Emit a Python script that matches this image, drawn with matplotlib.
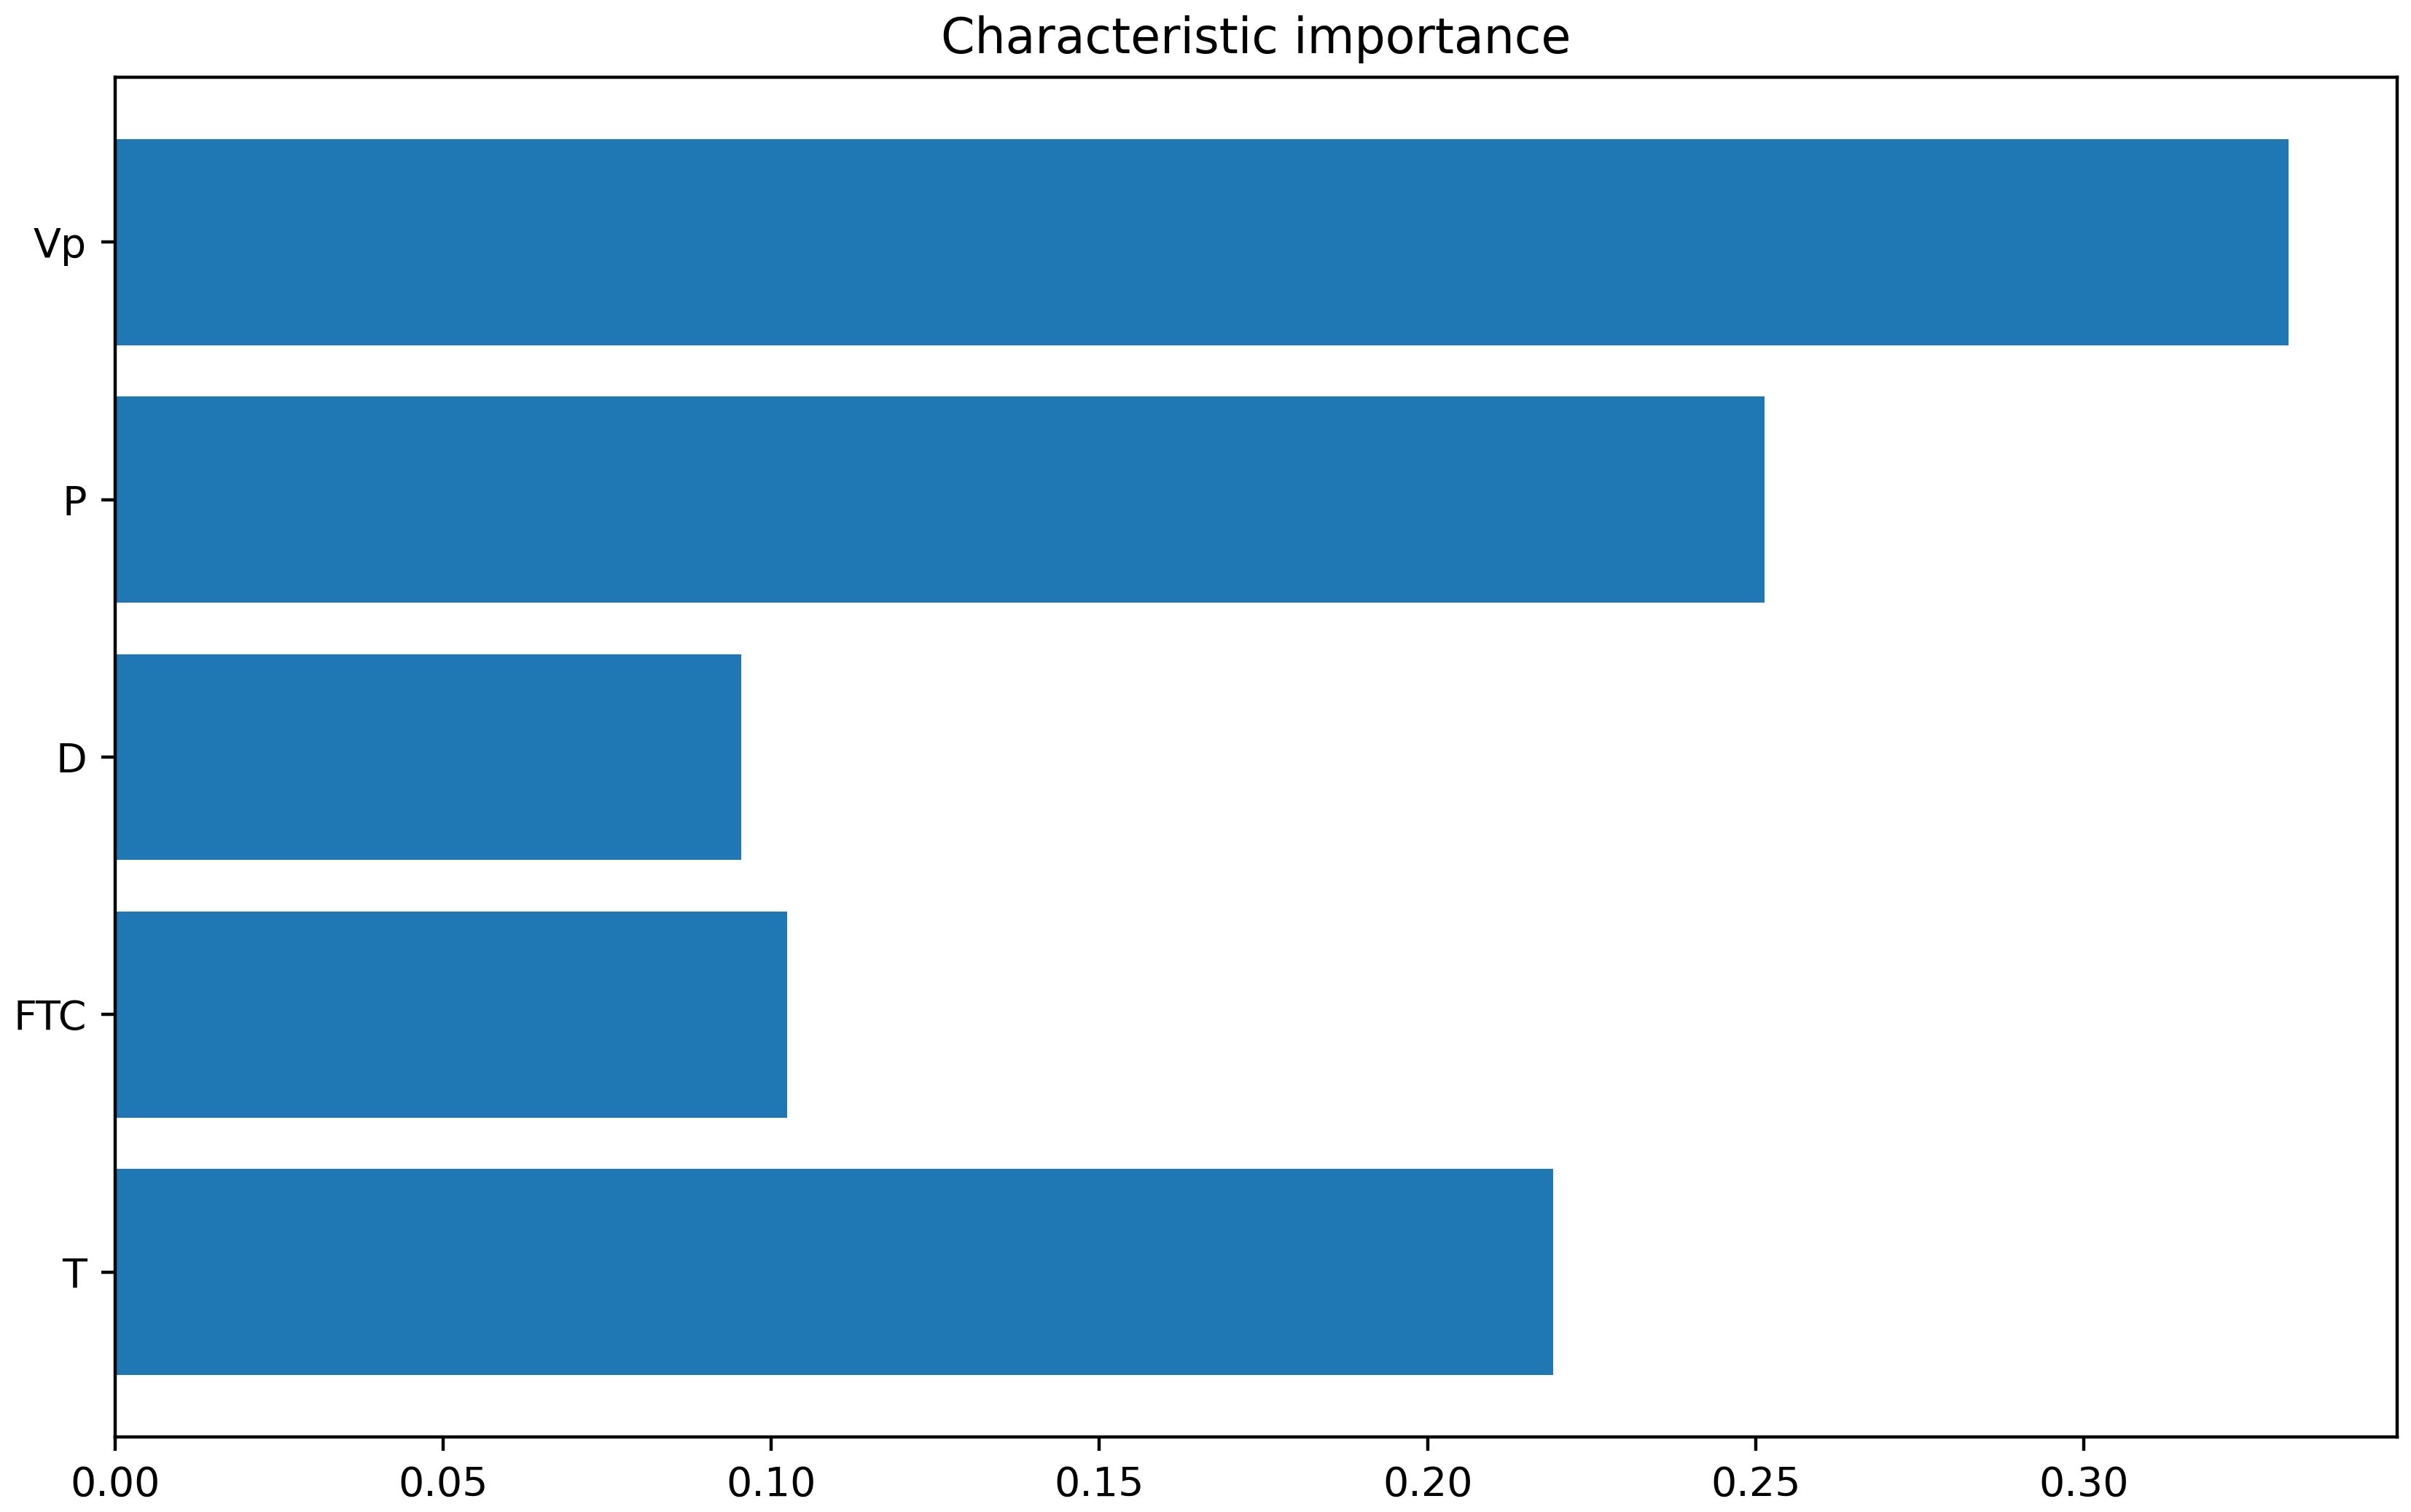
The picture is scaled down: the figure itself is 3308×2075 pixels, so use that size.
import matplotlib
matplotlib.use("Agg")
import matplotlib.pyplot as plt

# feature importances, bottom to top
features = ["T", "FTC", "D", "P", "Vp"]
importance = [0.2191, 0.1024, 0.0954, 0.2513, 0.3312]

fig = plt.figure(figsize=(8.27, 5.1875), dpi=400)
ax = fig.add_axes([0.04776, 0.04964, 0.9465, 0.89928])
ax.barh(features, importance)
ax.set_title("Characteristic importance")

fig.savefig("out.png", dpi=400)
